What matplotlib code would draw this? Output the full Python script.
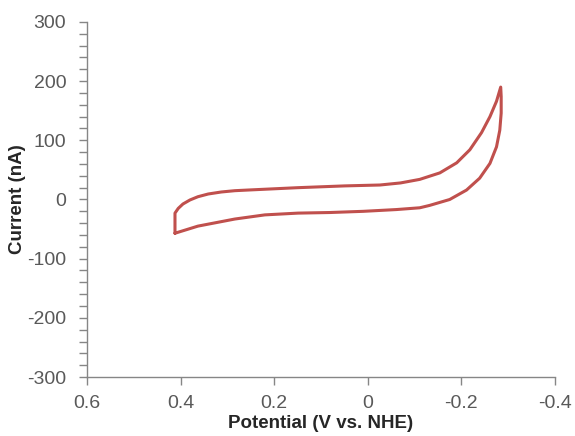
import matplotlib
matplotlib.use("Agg")
import matplotlib.pyplot as plt
from matplotlib.ticker import MultipleLocator

plt.rcParams['font.family'] = ['Liberation Sans', 'DejaVu Sans']

# Cyclic voltammogram (closed loop), potential in V vs. NHE, current in nA
# forward (upper) branch: from 0.412 V to -0.285 V
upper_E = [0.412, 0.412, 0.405, 0.395, 0.380, 0.363, 0.341, 0.313, 0.284, 0.256,
           0.149, 0.049, -0.026, -0.070, -0.111, -0.154, -0.190, -0.218, -0.243,
           -0.261, -0.275, -0.284]
upper_I = [-57, -23, -15, -7.6, -0.8, 4.7, 9.3, 12.7, 14.9, 16,
           20, 23, 24.5, 28, 34, 45, 62, 84, 113,
           140, 166, 190]
# reverse (lower) branch: from -0.285 V back to 0.412 V
lower_E = [-0.285, -0.285, -0.282, -0.275, -0.261, -0.239, -0.211, -0.175, -0.132,
           -0.111, -0.061, 0.010, 0.081, 0.149, 0.220, 0.284, 0.363, 0.412]
lower_I = [174, 146, 117, 89, 61, 36, 16, 0, -10,
           -14, -17, -20, -22, -23, -26, -33, -45, -57]

x_ticks = [0.6, 0.4, 0.2, 0.0, -0.2, -0.4]
x_tick_labels = ["0.6", "0.4", "0.2", "0", "-0.2", "-0.4"]
y_ticks = [-300, -200, -100, 0, 100, 200, 300]
y_tick_labels = ["-300", "-200", "-100", "0", "100", "200", "300"]

fig = plt.figure(figsize=(5.75, 4.36), dpi=100)
ax = fig.add_axes([87/575, 1-377/436, (555-87)/575, (377-22)/436])

E = upper_E + lower_E
I = upper_I + lower_I
ax.plot(E, I, color='#C0504D', lw=2.2, solid_joinstyle='round', solid_capstyle='round')

ax.set_xlim(0.6, -0.4)
ax.set_ylim(-300, 300)
ax.set_xticks(x_ticks)
ax.set_xticklabels(x_tick_labels)
ax.set_yticks(y_ticks)
ax.set_yticklabels(y_tick_labels)
ax.yaxis.set_minor_locator(MultipleLocator(20))

axis_col = '#868686'
for s in ['top', 'right']:
    ax.spines[s].set_visible(False)
for s in ['left', 'bottom']:
    ax.spines[s].set_color(axis_col)
    ax.spines[s].set_linewidth(1.0)

ax.tick_params(axis='both', which='both', direction='out', color=axis_col,
               width=1.0, length=6, labelcolor='#595959', labelsize=14)
ax.tick_params(axis='y', which='both', pad=9)
ax.tick_params(axis='x', which='both', pad=7)

ax.set_xlabel('Potential (V vs. NHE)', fontsize=13.5, fontweight='bold',
              color='#262626', labelpad=2)
ax.set_ylabel('Current (nA)', fontsize=13.5, fontweight='bold',
              color='#262626', labelpad=1)

fig.savefig('out.png', dpi=100)
